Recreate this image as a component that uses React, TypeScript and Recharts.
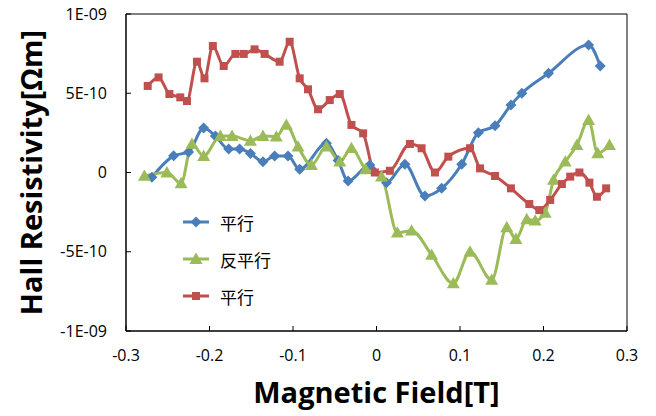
import React from 'react';
import {
  LineChart,
  Line,
  XAxis,
  YAxis,
  ReferenceArea,
} from 'recharts';

// field in T, resistivity in units of 1E-09 Ωm
const parallelA_x = [-0.269, -0.243, -0.225, -0.207, -0.193, -0.177, -0.164, -0.151, -0.136, -0.122, -0.106, -0.092, -0.06, -0.046, -0.034, -0.008, 0.012, 0.034, 0.058, 0.078, 0.102, 0.122, 0.142, 0.161, 0.174, 0.206, 0.254, 0.268];
const parallelA_y = [-0.03, 0.105, 0.13, 0.28, 0.23, 0.148, 0.148, 0.12, 0.068, 0.104, 0.104, 0.02, 0.184, 0.075, -0.054, 0.047, -0.064, 0.052, -0.148, -0.1, 0.052, 0.251, 0.295, 0.426, 0.5, 0.626, 0.804, 0.672];

const antiParallel_x = [-0.278, -0.251, -0.234, -0.221, -0.207, -0.187, -0.173, -0.151, -0.136, -0.12, -0.108, -0.094, -0.078, -0.06, -0.044, -0.03, -0.013, 0.006, 0.025, 0.042, 0.066, 0.092, 0.112, 0.138, 0.156, 0.167, 0.18, 0.19, 0.202, 0.212, 0.226, 0.24, 0.254, 0.265, 0.279];
const antiParallel_y = [-0.022, 0, -0.068, 0.18, 0.104, 0.23, 0.23, 0.2, 0.23, 0.226, 0.3, 0.163, 0.047, 0.163, 0.068, 0.153, 0.02, -0.026, -0.38, -0.367, -0.52, -0.7, -0.5, -0.678, -0.346, -0.42, -0.295, -0.304, -0.254, -0.047, 0.068, 0.173, 0.331, 0.121, 0.173];

const parallelB_x = [-0.274, -0.261, -0.248, -0.235, -0.227, -0.215, -0.206, -0.196, -0.183, -0.169, -0.159, -0.146, -0.134, -0.116, -0.104, -0.092, -0.082, -0.07, -0.056, -0.044, -0.03, -0.016, -0.002, 0.016, 0.04, 0.054, 0.07, 0.086, 0.112, 0.124, 0.142, 0.161, 0.183, 0.195, 0.208, 0.222, 0.232, 0.243, 0.255, 0.264, 0.275];
const parallelB_y = [0.546, 0.6, 0.495, 0.474, 0.451, 0.699, 0.594, 0.798, 0.672, 0.748, 0.748, 0.777, 0.748, 0.699, 0.825, 0.594, 0.525, 0.399, 0.457, 0.495, 0.3, 0.247, 0, 0.011, 0.18, 0.153, 0, 0.1, 0.153, 0.026, -0.022, -0.1, -0.199, -0.237, -0.173, -0.073, -0.026, 0, -0.064, -0.153, -0.1];

const seriesNames = ['平行', '反平行', '平行'];
const seriesColors = ['#4A7EBB', '#9BBB59', '#C0504D'];

const xTicks = [-0.3, -0.2, -0.1, 0, 0.1, 0.2, 0.3];
const xTickLabels = ['-0.3', '-0.2', '-0.1', '0', '0.1', '0.2', '0.3'];
const yTicks = [-1, -0.5, 0, 0.5, 1];
const yTickLabels = ['-1E-09', '-5E-10', '0', '5E-10', '1E-09'];

const zip = (xs: number[], ys: number[]) => xs.map((x, i) => ({ x, y: ys[i] }));

const dataA = zip(parallelA_x, parallelA_y);
const dataG = zip(antiParallel_x, antiParallel_y);
const dataB = zip(parallelB_x, parallelB_y);

const font = '"Open Sans", Lato, sans-serif';

function Diamond({ cx, cy, fill }: any) {
  if (cx == null || cy == null) return null;
  const r = 5.5;
  return <path d={`M${cx},${cy - r}L${cx + r},${cy}L${cx},${cy + r}L${cx - r},${cy}Z`} fill={fill} />;
}

function Triangle({ cx, cy, fill }: any) {
  if (cx == null || cy == null) return null;
  const r = 6.5;
  return <path d={`M${cx},${cy - r}L${cx + r},${cy + r * 0.75}L${cx - r},${cy + r * 0.75}Z`} fill={fill} />;
}

function Square({ cx, cy, fill }: any) {
  if (cx == null || cy == null) return null;
  const r = 4;
  return <rect x={cx - r} y={cy - r} width={r * 2} height={r * 2} fill={fill} />;
}

const markers = [Diamond, Triangle, Square];

function LegendBox() {
  return (
    <div
      style={{
        position: 'absolute',
        left: 183,
        top: 210,
        display: 'flex',
        flexDirection: 'column',
        gap: 13,
      }}
    >
      {seriesNames.map((name, i) => {
        const M = markers[i];
        return (
          <div key={i} style={{ display: 'flex', alignItems: 'center', height: 24 }}>
            <svg width={26} height={16}>
              <line x1={0} y1={8} x2={26} y2={8} stroke={seriesColors[i]} strokeWidth={3} />
              <M cx={13} cy={8} fill={seriesColors[i]} />
            </svg>
            <span
              style={{
                marginLeft: 11,
                fontFamily: '"Noto Sans CJK JP", sans-serif',
                fontSize: 17,
                color: '#000',
              }}
            >
              {name}
            </span>
          </div>
        );
      })}
    </div>
  );
}

export default function App() {
  return (
    <div style={{ position: 'absolute', left: 0, top: 0, width: 656, height: 416, background: '#fff' }}>
      <LineChart width={656} height={416} margin={{ top: 14, right: 29, left: 0, bottom: 0 }}>
        <XAxis
          dataKey="x"
          type="number"
          domain={[-0.3, 0.3]}
          ticks={xTicks}
          tickFormatter={(v: number) => xTickLabels[xTicks.indexOf(v)] ?? ''}
          allowDataOverflow
          height={85}
          tickSize={-5}
          tickMargin={24}
          stroke="#000"
          tick={{ fill: '#000', fontSize: 16, fontFamily: font }}
          label={{
            value: 'Magnetic Field[T]',
            position: 'insideBottom',
            offset: 13,
            style: { fill: '#000', fontSize: 29, fontWeight: 700, fontFamily: font },
          }}
        />
        <YAxis
          dataKey="y"
          type="number"
          domain={[-1, 1]}
          ticks={yTicks}
          tickFormatter={(v: number) => yTickLabels[yTicks.indexOf(v)] ?? ''}
          allowDataOverflow
          width={126}
          tickSize={-5}
          tickMargin={24}
          stroke="#000"
          tick={{ fill: '#000', fontSize: 16, fontFamily: font }}
          label={{
            content: (p: any) => {
              const vb = p.viewBox || { x: 0, y: 14, height: 317 };
              const cy = vb.y + vb.height / 2;
              return (
                <text
                  x={30}
                  y={cy}
                  transform={`rotate(-90, 30, ${cy})`}
                  textAnchor="middle"
                  dominantBaseline="central"
                  style={{ fill: '#000', fontSize: 29, fontWeight: 700, fontFamily: font }}
                >
                  Hall Resistivity[Ωm]
                </text>
              );
            },
          }}
        />
        <ReferenceArea x1={-0.3} x2={0.3} y1={-1} y2={1} fill="none" fillOpacity={0} stroke="#000" strokeWidth={1} />
        <Line
          data={dataA}
          dataKey="y"
          name={seriesNames[0]}
          type="monotone"
          stroke={seriesColors[0]}
          strokeWidth={3}
          dot={(p: any) => <Diamond key={p.index} cx={p.cx} cy={p.cy} fill={seriesColors[0]} />}
          isAnimationActive={false}
        />
        <Line
          data={dataG}
          dataKey="y"
          name={seriesNames[1]}
          type="monotone"
          stroke={seriesColors[1]}
          strokeWidth={3}
          dot={(p: any) => <Triangle key={p.index} cx={p.cx} cy={p.cy} fill={seriesColors[1]} />}
          isAnimationActive={false}
        />
        <Line
          data={dataB}
          dataKey="y"
          name={seriesNames[2]}
          type="monotone"
          stroke={seriesColors[2]}
          strokeWidth={3}
          dot={(p: any) => <Square key={p.index} cx={p.cx} cy={p.cy} fill={seriesColors[2]} />}
          isAnimationActive={false}
        />
      </LineChart>
      <LegendBox />
    </div>
  );
}
